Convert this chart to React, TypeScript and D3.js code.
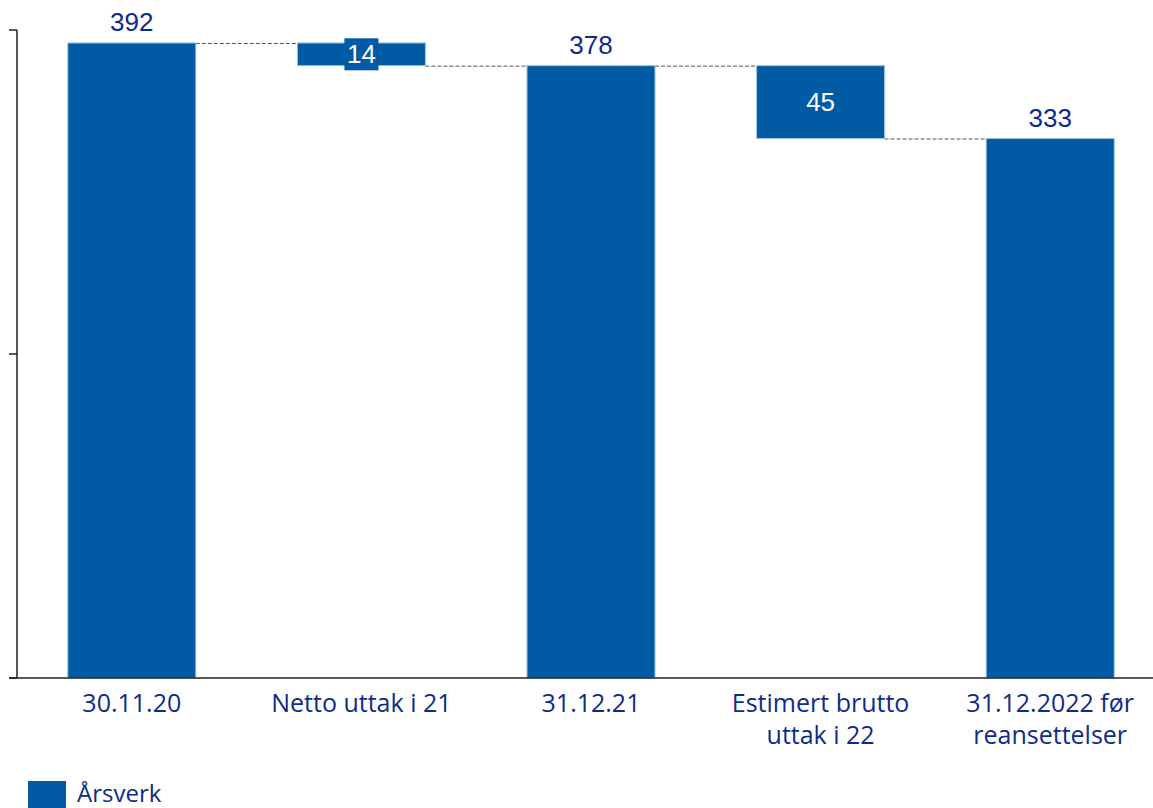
import React from "react";
import * as d3 from "d3";

const categories = ["30.11.20", "Netto uttak i 21", "31.12.21", "Estimert brutto\nuttak i 22", "31.12.2022 før\nreansettelser"];
const values = [392, -14, 378, -45, 333];
const isTotal = [true, false, true, false, true];
const yTicks = [0, 200, 400];
const legendLabel = "Årsverk";

const W = 1153, H = 808;
const BAR = "#005BA4";
const TEXT = "#0E2B8A";
const CAT_FONT = "Open Sans, Noto Sans, sans-serif";

export default function App() {
  const x = d3.scaleBand<string>().domain(categories).range([17, 1165]).paddingInner(0.4425).paddingOuter(0.22125);
  const y = d3.scaleLinear().domain([0, 400]).range([678, 30]);

  let running = 0;
  const segs = categories.map((c, i) => {
    let y0: number, y1: number;
    if (isTotal[i]) {
      y0 = 0; y1 = values[i]; running = values[i];
    } else {
      y0 = running; y1 = running + values[i]; running = y1;
    }
    return { c, i, lo: Math.min(y0, y1), hi: Math.max(y0, y1), end: y1, v: values[i] };
  });

  const bw = x.bandwidth();

  return (
    <svg width={W} height={H} style={{ position: "absolute", left: 0, top: 0 }}>
      <rect width={W} height={H} fill="#fff" />
      {segs.slice(0, -1).map((s, i) => {
        const x1 = (x(s.c) as number) + bw;
        const x2 = x(segs[i + 1].c) as number;
        return <line key={"c" + i} x1={x1} x2={x2} y1={y(s.end) + 0.5} y2={y(s.end) + 0.5} stroke="#555" strokeWidth={1} strokeDasharray="4,2" />;
      })}
      {segs.map((s) => (
        <rect key={"b" + s.i} x={x(s.c)} y={y(s.hi)} width={bw} height={y(s.lo) - y(s.hi)} fill={BAR} stroke="#9DC2E6" strokeWidth={1} />
      ))}
      <line x1={17} x2={17} y1={y(400)} y2={678} stroke="#222" strokeWidth={1.5} />
      {yTicks.map((t) => (
        <line key={"t" + t} x1={9} x2={17} y1={y(t)} y2={y(t)} stroke="#222" strokeWidth={1.5} />
      ))}
      <line x1={9} x2={W} y1={678} y2={678} stroke="#222" strokeWidth={1.5} />
      {segs.map((s) => {
        const cx = (x(s.c) as number) + bw / 2;
        if (isTotal[s.i]) {
          return <text key={"v" + s.i} x={cx} y={y(s.hi) - 12} textAnchor="middle" fontFamily="Liberation Sans, Arial" fontSize={26} fill={TEXT}>{s.v}</text>;
        }
        const h = y(s.lo) - y(s.hi);
        const cy = (y(s.lo) + y(s.hi)) / 2;
        const label = String(Math.abs(s.v));
        const small = h < 32;
        return (
          <g key={"v" + s.i}>
            {small && <rect x={cx - 17} y={cy - 16} width={34} height={32} fill={BAR} />}
            <text x={cx} y={cy + 9} textAnchor="middle" fontFamily="Liberation Sans, Arial" fontSize={26} fill="#fff">{label}</text>
          </g>
        );
      })}
      {categories.map((c) => {
        const cx = (x(c) as number) + bw / 2;
        return c.split("\n").map((ln, j) => (
          <text key={c + j} x={cx} y={712 + j * 32} textAnchor="middle" fontFamily={CAT_FONT} fontSize={25} fill={TEXT}>{ln}</text>
        ));
      })}
      <rect x={28} y={781} width={38} height={27} fill={BAR} />
      <text x={77} y={802} fontFamily={CAT_FONT} fontSize={24} fill={TEXT}>{legendLabel}</text>
    </svg>
  );
}
